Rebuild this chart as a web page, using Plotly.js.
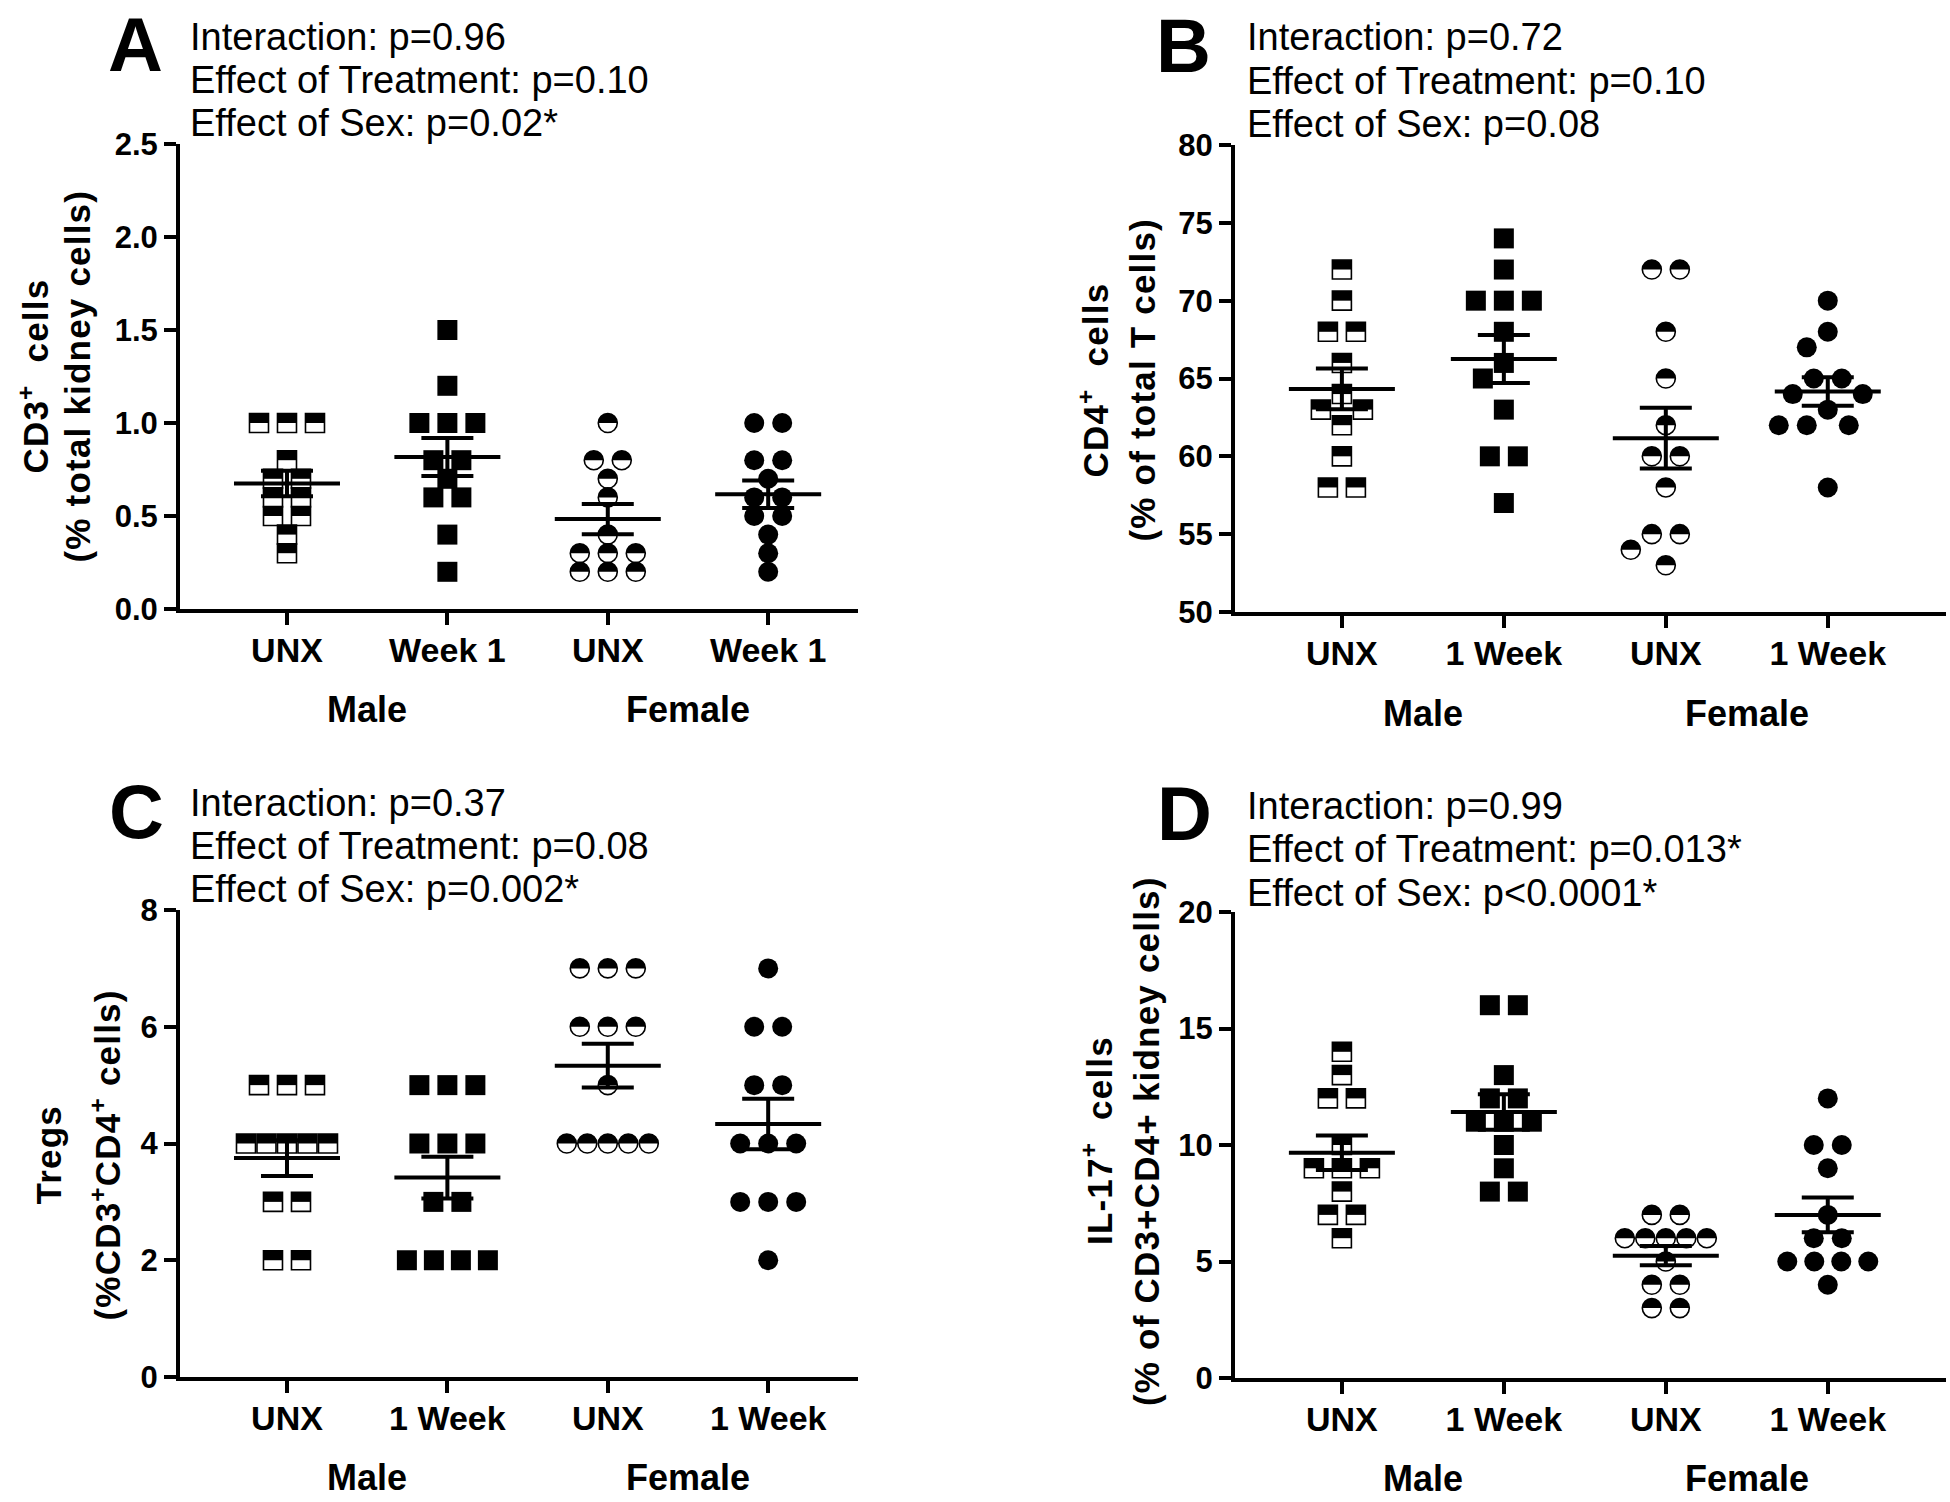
<!DOCTYPE html>
<html><head><meta charset="utf-8">
<script src="https://cdn.plot.ly/plotly-3.0.1.min.js"></script>
<style>html,body{margin:0;padding:0;background:#fff}#chart{width:1950px;height:1502px}</style>
</head><body><div id="chart"></div>
<script>
// ---------------- DATA ----------------
const ticksA = ['UNX', 'Week 1', 'UNX', 'Week 1'];
const ticksBCD = ['UNX', '1 Week', 'UNX', '1 Week'];
const sexLabels = ['Male', 'Female'];

// Panel A: CD3+ cells (% total kidney cells)
const A_maleUNX   = [1.0, 1.0, 1.0, 0.8, 0.7, 0.7, 0.6, 0.6, 0.5, 0.5, 0.4, 0.3];
const A_maleWk    = [1.5, 1.2, 1.0, 1.0, 1.0, 0.8, 0.8, 0.7, 0.6, 0.6, 0.4, 0.2];
const A_femaleUNX = [1.0, 0.8, 0.8, 0.7, 0.6, 0.4, 0.3, 0.3, 0.3, 0.2, 0.2, 0.2];
const A_femaleWk  = [1.0, 1.0, 0.8, 0.8, 0.7, 0.6, 0.6, 0.5, 0.5, 0.4, 0.3, 0.2];

// Panel B: CD4+ cells (% of total T cells)
const B_maleUNX   = [72, 70, 68, 68, 66, 64, 63, 63, 62, 60, 58, 58];
const B_maleWk    = [74, 72, 70, 70, 70, 68, 66, 65, 63, 60, 60, 57];
const B_femaleUNX = [72, 72, 68, 65, 62, 60, 60, 58, 55, 55, 54, 53];
const B_femaleWk  = [70, 68, 67, 65, 65, 64, 64, 63, 62, 62, 62, 58];

// Panel C: Tregs (%CD3+CD4+ cells)
const C_maleUNX   = [5, 5, 5, 4, 4, 4, 4, 4, 3, 3, 2, 2];
const C_maleWk    = [5, 5, 5, 4, 4, 4, 3, 3, 2, 2, 2, 2];
const C_femaleUNX = [7, 7, 7, 6, 6, 6, 5, 4, 4, 4, 4, 4];
const C_femaleWk  = [7, 6, 6, 5, 5, 4, 4, 4, 3, 3, 3, 2];

// Panel D: IL-17+ cells (% of CD3+CD4+ kidney cells)
const D_maleUNX   = [14, 13, 12, 12, 10, 9, 9, 9, 8, 7, 7, 6];
const D_maleWk    = [16, 16, 13, 12, 12, 11, 11, 11, 10, 9, 8, 8];
const D_femaleUNX = [7, 7, 6, 6, 6, 6, 6, 5, 4, 4, 3, 3];
const D_femaleWk  = [12, 10, 10, 9, 7, 6, 6, 5, 5, 5, 5, 4];

const yTitleA = ['CD3<sup>+</sup>  cells', '(% total kidney cells)'];
const yTitleB = ['CD4<sup>+</sup>  cells', '(% of total T cells)'];
const yTitleC = ['Tregs', '(%CD3<sup>+</sup>CD4<sup>+</sup> cells)'];
const yTitleD = ['IL-17<sup>+</sup>  cells', '(% of CD3+CD4+ kidney cells)'];

const statsA = ['Interaction: p=0.96', 'Effect of Treatment: p=0.10', 'Effect of Sex: p=0.02*'];
const statsB = ['Interaction: p=0.72', 'Effect of Treatment: p=0.10', 'Effect of Sex: p=0.08'];
const statsC = ['Interaction: p=0.37', 'Effect of Treatment: p=0.08', 'Effect of Sex: p=0.002*'];
const statsD = ['Interaction: p=0.99', 'Effect of Treatment: p=0.013*', 'Effect of Sex: p&lt;0.0001*'];

// ---------------- LAYOUT CONFIG ----------------
const W = 1950, H = 1502;
const FONT = 'Liberation Sans, Arial, Helvetica, sans-serif';

const panels = [
  {letter: 'A', groups: [A_maleUNX, A_maleWk, A_femaleUNX, A_femaleWk], ticks: ticksA, ytitle: yTitleA, stats: statsA,
   yr: [0, 2.5], dtick: 0.5, fmt: '.1f', box: [180, 858, 144, 609], xr: [-0.667, 3.56],
   titleOff: [147, 103], titleDY: 0,
   letterTop: 0, letterX: 135, textX: 188, textY: [37, 80, 123], sexY: 709},
  {letter: 'B', groups: [B_maleUNX, B_maleWk, B_femaleUNX, B_femaleWk], ticks: ticksBCD, ytitle: yTitleB, stats: statsB,
   yr: [50, 80], dtick: 5, fmt: 'd', box: [1235, 1946, 145, 612], xr: [-0.66, 3.73],
   titleOff: [142, 93], titleDY: 2,
   letterTop: 1, letterX: 1183, textX: 1245, textY: [37, 81, 124], sexY: 713},
  {letter: 'C', groups: [C_maleUNX, C_maleWk, C_femaleUNX, C_femaleWk], ticks: ticksBCD, ytitle: yTitleC, stats: statsC,
   yr: [0, 8], dtick: 2, fmt: 'd', box: [180, 858, 910, 1377], xr: [-0.667, 3.56],
   titleOff: [132, 75], titleDY: 12,
   letterTop: 767, letterX: 136, textX: 188, textY: [803, 846, 889], sexY: 1477},
  {letter: 'D', groups: [D_maleUNX, D_maleWk, D_femaleUNX, D_femaleWk], ticks: ticksBCD, ytitle: yTitleD, stats: statsD,
   yr: [0, 20], dtick: 5, fmt: 'd', box: [1235, 1946, 912, 1378], xr: [-0.66, 3.73],
   titleOff: [138, 89], titleDY: -4,
   letterTop: 769, letterX: 1184, textX: 1245, textY: [806, 849, 893], sexY: 1478}
];

const MARK = 20;       // marker size px
const MEAN_LEN = 106;  // mean line length px
const CAP_HALF = 26;   // SEM cap half width px

// Prism-like scatter spreading (computed from the values, in pixel space)
function swarm(vals, pxX, pxY) {
  const MW = 18, MH = 17;
  const uniq = [...new Set(vals)].sort((a, b) => b - a);
  const placed = [], out = [];
  const cands = [];
  for (const e of [0, 14]) for (let s = -14; s <= 14; s += 7) cands.push({e, s, c: e + Math.abs(s)});
  cands.sort((a, b) => a.c - b.c);
  const free = (x, py, sp) => placed.every(p => {
    const dy = Math.abs(p.y - py);
    if (dy < 1e-6) return Math.abs(p.x - x) >= sp - 0.01;
    return !(Math.abs(p.x - x) < MW && dy < MH);
  });
  for (const v of uniq) {
    const n = vals.filter(u => u === v).length;
    const sp = n >= 5 ? 20.5 : (n === 4 ? 27 : 28);
    const py = v * pxY;
    let best = null;
    for (const c of cands) {
      const xs = [];
      for (let i = 0; i < n; i++) xs.push((i - (n - 1) / 2) * (sp + c.e) + c.s);
      if (xs.every(x => free(x, py, sp))) { best = xs; break; }
    }
    if (best) {
      best.forEach(x => { placed.push({x, y: py}); out.push({v, dx: x / pxX}); });
    } else {
      for (let i = 0; i < n; i++) {
        let x = 0;
        for (let t = 0; t <= 20; t++) {
          if (free(-7 * t, py, sp)) { x = -7 * t; break; }
          if (free(7 * t, py, sp)) { x = 7 * t; break; }
        }
        placed.push({x, y: py}); out.push({v, dx: x / pxX});
      }
    }
  }
  return out;
}

function meanSem(a) {
  const n = a.length, m = a.reduce((s, v) => s + v, 0) / n;
  const sd = Math.sqrt(a.reduce((s, v) => s + (v - m) * (v - m), 0) / (n - 1));
  return [m, sd / Math.sqrt(n)];
}

const traces = [], shapes = [], annotations = [];
const layout = {
  width: W, height: H, margin: {l: 0, r: 0, t: 0, b: 0},
  paper_bgcolor: 'white', plot_bgcolor: 'white', showlegend: false, hovermode: false,
  font: {family: FONT, color: 'black'}
};

const halfSquare = h => ({type: 'rect', x0: -h, x1: h, y0: 0, y1: h});
const k = 0.5523;
const halfCircle = r => ({type: 'path',
  path: `M ${-r},0 C ${-r},${k * r} ${-k * r},${r} 0,${r} C ${k * r},${r} ${r},${k * r} ${r},0 Z`});

panels.forEach((p, i) => {
  const id = i === 0 ? '' : String(i + 1);
  const xa = 'x' + id, ya = 'y' + id;
  const [x0, x1, y0, y1] = p.box;
  const pxX = (x1 - x0) / (p.xr[1] - p.xr[0]);
  const pxY = (y1 - y0) / (p.yr[1] - p.yr[0]);

  const axisCommon = {showline: true, linewidth: 4, linecolor: 'black', ticks: 'outside', ticklen: 12,
    tickwidth: 4, tickcolor: 'black', showgrid: false, zeroline: false, fixedrange: true};
  layout['xaxis' + id] = Object.assign({}, axisCommon, {
    domain: [x0 / W, x1 / W], range: p.xr, anchor: ya, tickmode: 'array', tickvals: [0, 1, 2, 3],
    ticktext: p.ticks, ticklabelstandoff: -4,
    tickfont: {family: FONT, size: 34, weight: 'bold', color: 'black'}
  });
  layout['yaxis' + id] = Object.assign({}, axisCommon, {
    domain: [1 - y1 / H, 1 - y0 / H], range: p.yr, anchor: xa, tick0: p.yr[0], dtick: p.dtick,
    tickformat: p.fmt, tickfont: {family: FONT, size: 31, weight: 'bold', color: 'black'}
  });

  const means = [], sems = [];
  p.groups.forEach((vals, g) => {
    const pts = swarm(vals, pxX, pxY);
    const xs = pts.map(q => g + q.dx), ys = pts.map(q => q.v);
    const half = (g === 0 || g === 2);
    const sym = g < 2 ? 'square' : 'circle';
    traces.push({
      type: 'scatter', mode: 'markers', xaxis: xa, yaxis: ya, x: xs, y: ys, cliponaxis: false,
      marker: {symbol: sym, size: half ? MARK - 1 : MARK,
        color: half ? 'rgba(0,0,0,0)' : 'black',
        line: {color: 'black', width: half ? 1.6 : 0}}
    });
    if (half) {
      xs.forEach((xv, j) => {
        const geom = g === 0 ? halfSquare((MARK - 1) / 2) : halfCircle((MARK - 1) / 2);
        shapes.push(Object.assign(geom, {
          xref: xa, yref: ya, xsizemode: 'pixel', ysizemode: 'pixel', xanchor: xv, yanchor: ys[j],
          fillcolor: 'black', line: {width: 0}, layer: 'below'
        }));
      });
    }
    const [m, s] = meanSem(vals);
    means.push(m); sems.push(s);
  });

  traces.push({
    type: 'scatter', mode: 'markers', xaxis: xa, yaxis: ya, x: [0, 1, 2, 3], y: means, cliponaxis: false,
    marker: {symbol: 'line-ew', size: MEAN_LEN / 1.4, color: 'black', line: {color: 'black', width: 4}},
    error_y: {type: 'data', array: sems, visible: true, color: 'black', thickness: 4, width: CAP_HALF}
  });

  // y-axis title, two lines
  p.ytitle.forEach((t, j) => annotations.push({xref: 'paper', yref: 'paper',
    x: (x0 - p.titleOff[j]) / W, y: 1 - ((y0 + y1) / 2 + p.titleDY) / H,
    text: '<span style="letter-spacing:1.2px">' + t + '</span>', textangle: -90, showarrow: false,
    xanchor: 'center', yanchor: 'middle', font: {family: FONT, size: 35, weight: 'bold', color: 'black'}}));

  annotations.push({xref: 'paper', yref: 'paper', x: p.letterX / W, y: 1 - p.letterTop / H,
    text: p.letter, showarrow: false, xanchor: 'center', yanchor: 'top',
    font: {family: FONT, size: 76, weight: 'bold', color: 'black'}});
  p.stats.forEach((t, j) => annotations.push({xref: 'paper', yref: 'paper', x: p.textX / W, y: 1 - p.textY[j] / H,
    text: t, showarrow: false, xanchor: 'left', yanchor: 'middle',
    font: {family: FONT, size: 38, color: 'black'}}));
  sexLabels.forEach((t, j) => annotations.push({xref: xa, yref: 'paper', x: 0.5 + 2 * j, y: 1 - p.sexY / H,
    text: t, showarrow: false, xanchor: 'center', yanchor: 'middle',
    font: {family: FONT, size: 36, weight: 'bold', color: 'black'}}));
});

layout.shapes = shapes;
layout.annotations = annotations;
Plotly.newPlot('chart', traces, layout, {staticPlot: true, displayModeBar: false});
</script>
</body></html>
